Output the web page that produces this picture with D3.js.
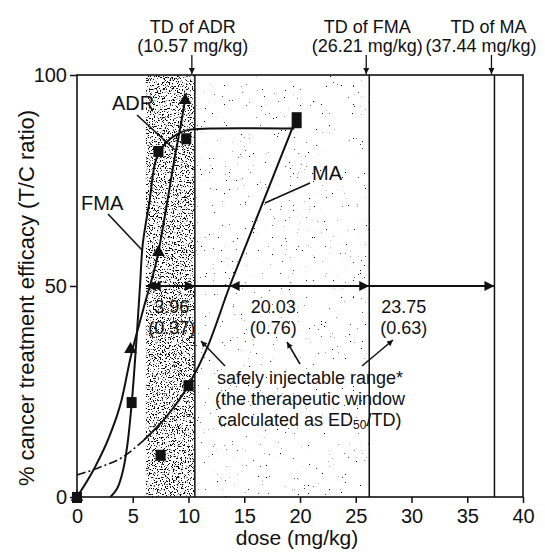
<!DOCTYPE html>
<html>
<head>
<meta charset="utf-8">
<script src="https://cdn.jsdelivr.net/npm/d3@7"></script>
<style>
  body { margin: 0; background: #fff; }
  text { font-family: "Liberation Sans", Arial, sans-serif; fill: #111; }
</style>
</head>
<body>
<svg id="chart"></svg>
<script>
// toxic doses and therapeutic windows
const drugs = ["ADR", "FMA", "MA"];
const tdValues = [10.57, 26.21, 37.44];
const windowWidths = [3.96, 20.03, 23.75];
const windowRatios = [0.37, 0.76, 0.63];

// measured points
const adrPoints = [[0, 0], [4.8, 35], [7.3, 58], [9.7, 94]];
const fmaPoints = [[4.9, 22.5], [7.3, 82], [9.8, 85]];
const maPoints = [[0, 0], [7.5, 10], [10, 26.5], [19.7, 90]];

// fitted curves
const adrCurve = [[0, 0], [1.5, 6.5], [3, 15], [4, 23], [4.8, 33], [6, 45], [7.3, 58], [8.1, 70], [8.8, 81], [9.3, 88], [9.75, 95]];
const fmaCurve = [[3.0, 0], [3.6, 2], [4.1, 6], [4.5, 12], [4.9, 22], [5.3, 36], [5.65, 50], [5.9, 60], [6.5, 70], [7.1, 80], [8, 84], [9, 86], [10, 87], [12, 87.3], [19.5, 87.3]];
const maCurve = [[0, 5.2], [2, 7], [4, 9.3], [6, 13.5], [8, 19], [10, 26.5], [11.7, 35.5], [13.7, 50], [15.2, 60], [16.7, 70], [18.2, 80], [19.7, 90]];
const maFitStart = 6; // fit drawn dash-dot below this dose

const xTicks = [0, 5, 10, 15, 20, 25, 30, 35, 40];
const yTicks = [0, 50, 100];

const width = 545, height = 552;
const margin = {top: 75, right: 22, bottom: 55, left: 77};

const svg = d3.select("#chart")
    .attr("width", width)
    .attr("height", height);

const x = d3.scaleLinear().domain([0, 40]).range([margin.left, width - margin.right]);
const y = d3.scaleLinear().domain([0, 100]).range([height - margin.bottom, margin.top]);

const defs = svg.append("defs");

// stipple textures (dense screen and sparse screen)
function stipple(id, freq, cut) {
  const f = defs.append("filter").attr("id", id)
      .attr("x", 0).attr("y", 0).attr("width", 1).attr("height", 1);
  f.append("feTurbulence").attr("type", "fractalNoise")
      .attr("baseFrequency", freq).attr("numOctaves", 2).attr("seed", 7).attr("result", "n");
  f.append("feColorMatrix").attr("in", "n").attr("type", "matrix")
      .attr("values", `0 0 0 0 0  0 0 0 0 0  0 0 0 0 0  14 0 0 0 ${-cut * 14}`).attr("result", "d");
  f.append("feComposite").attr("in", "d").attr("in2", "SourceAlpha").attr("operator", "in");
}
stipple("stipDark", 0.75, 0.565);
stipple("stipLight", 0.75, 0.745);

defs.append("marker").attr("id", "ah")
    .attr("viewBox", "0 0 10 10").attr("refX", 10).attr("refY", 5)
    .attr("markerWidth", 16).attr("markerHeight", 10).attr("markerUnits", "userSpaceOnUse")
    .attr("orient", "auto-start-reverse")
  .append("path").attr("d", "M0,0L10,5L0,10Z").attr("fill", "#111");

defs.append("marker").attr("id", "sm")
    .attr("viewBox", "0 0 10 10").attr("refX", 10).attr("refY", 5)
    .attr("markerWidth", 8).attr("markerHeight", 6).attr("markerUnits", "userSpaceOnUse")
    .attr("orient", "auto")
  .append("path").attr("d", "M0,0L10,5L0,10Z").attr("fill", "#111");

const ed50 = tdValues.map((t, i) => +(t - windowWidths[i]).toFixed(2));

// shaded ranges
const bands = [
  {x0: ed50[1], x1: tdValues[0], filt: "stipDark"},
  {x0: tdValues[0], x1: tdValues[1], filt: "stipLight"}
];
const band = svg.append("g");
bands.forEach(b => {
  band.append("rect")
      .attr("x", x(b.x0)).attr("y", y(100))
      .attr("width", x(b.x1) - x(b.x0)).attr("height", y(0) - y(100))
      .attr("fill", "#000").attr("filter", `url(#${b.filt})`);
});

// frame
svg.append("rect")
    .attr("x", x(0)).attr("y", y(100))
    .attr("width", x(40) - x(0)).attr("height", y(0) - y(100))
    .attr("fill", "none").attr("stroke", "#111").attr("stroke-width", 1.6);

// axes
const xAxis = svg.append("g")
    .attr("transform", `translate(0,${y(0)})`)
    .call(d3.axisBottom(x).tickValues(xTicks).tickSize(6).tickPadding(6).tickSizeOuter(0));
const yAxis = svg.append("g")
    .attr("transform", `translate(${x(0)},0)`)
    .call(d3.axisLeft(y).tickValues(yTicks).tickSize(7).tickPadding(3).tickSizeOuter(0));
[xAxis, yAxis].forEach(a => {
  a.select(".domain").remove();
  a.selectAll(".tick line").attr("stroke", "#111").attr("stroke-width", 1.5);
  a.selectAll(".tick text").attr("font-size", 20).attr("fill", "#111")
      .attr("font-family", "'Liberation Sans', Arial, sans-serif");
});

svg.append("text")
    .attr("x", (x(0) + x(40)) / 2 - 3).attr("y", 545)
    .attr("text-anchor", "middle").attr("font-size", 21)
    .text("dose (mg/kg)");

svg.append("text")
    .attr("transform", `translate(34,298) rotate(-90)`)
    .attr("text-anchor", "middle").attr("font-size", 22)
    .text("% cancer treatment efficacy (T/C ratio)");

// TD lines and top labels
const td = svg.append("g");
tdValues.forEach((t, i) => {
  td.append("line")
      .attr("x1", x(t)).attr("x2", x(t))
      .attr("y1", y(0)).attr("y2", y(100))
      .attr("stroke", "#111").attr("stroke-width", 1.5);
  td.append("line")
      .attr("x1", x(t) - 3).attr("x2", x(t) - 3)
      .attr("y1", 55).attr("y2", y(100) - 1)
      .attr("stroke", "#111").attr("stroke-width", 1.3)
      .attr("marker-end", "url(#sm)");
  const cx = Math.min(x(t) - 2, width - 64);
  td.append("text").attr("x", i === 2 ? x(t) - 6 : cx).attr("y", 33)
      .attr("text-anchor", "middle").attr("font-size", 18)
      .text(`TD of ${drugs[i]}`);
  td.append("text").attr("x", cx).attr("y", 52)
      .attr("text-anchor", "middle").attr("font-size", 18)
      .text(`(${tdValues[i].toFixed(2)} mg/kg)`);
});

// therapeutic window arrows at 50%
const win = svg.append("g");
tdValues.forEach((t, i) => {
  win.append("line")
      .attr("x1", x(ed50[i])).attr("x2", x(t))
      .attr("y1", y(50)).attr("y2", y(50))
      .attr("stroke", "#111").attr("stroke-width", 2)
      .attr("marker-start", "url(#ah)").attr("marker-end", "url(#ah)");
});
const winLabelX = [8.5, 17.6, 29.3];
windowWidths.forEach((w, i) => {
  win.append("text").attr("x", x(winLabelX[i])).attr("y", 313)
      .attr("text-anchor", "middle").attr("font-size", 18).text(w.toFixed(2));
  win.append("text").attr("x", x(winLabelX[i])).attr("y", 334)
      .attr("text-anchor", "middle").attr("font-size", 18).text(`(${windowRatios[i].toFixed(2)})`);
});

// curves
const line = d3.line().x(d => x(d[0])).y(d => y(d[1])).curve(d3.curveMonotoneX);
const curves = svg.append("g").attr("fill", "none").attr("stroke", "#111").attr("stroke-width", 2);
curves.append("path").attr("d", line(adrCurve));
curves.append("path").attr("d", d3.line().x(d => x(d[0])).y(d => y(d[1])).curve(d3.curveCatmullRom)(fmaCurve));
curves.append("path").attr("d", line(maCurve.filter(d => d[0] <= maFitStart)))
    .attr("stroke-dasharray", "9,3,2,3").attr("stroke-width", 1.6);
curves.append("path").attr("d", line(maCurve.filter(d => d[0] >= maFitStart)));

// markers
const marks = svg.append("g").attr("fill", "#111");
marks.selectAll(".tri").data(adrPoints).join("path")
    .attr("d", d3.symbol(d3.symbolTriangle, 70))
    .attr("transform", d => `translate(${x(d[0])},${y(d[1])})`);
marks.selectAll(".sq").data(fmaPoints.concat(maPoints)).join("rect")
    .attr("x", d => x(d[0]) - 5).attr("y", d => y(d[1]) - 5)
    .attr("width", 10).attr("height", d => d[1] > 88 ? 16 : 11);

// curve labels with pointers
const labels = [
  {t: "ADR", x: 112, y: 110, p: [137, 115, 175, 150]},
  {t: "FMA", x: 81, y: 210, p: [108, 214, 142, 250]},
  {t: "MA", x: 312, y: 180, p: [310, 183, 265, 203]}
];
labels.forEach(l => {
  svg.append("text").attr("x", l.x).attr("y", l.y).attr("font-size", 20).text(l.t);
  svg.append("line")
      .attr("x1", l.p[0]).attr("y1", l.p[1]).attr("x2", l.p[2]).attr("y2", l.p[3])
      .attr("stroke", "#111").attr("stroke-width", 1.6);
});

// annotation
const note = svg.append("g");
[[225, 366, 201, 341], [300, 364, 287, 342], [362, 366, 393, 340]].forEach(p => {
  note.append("line")
      .attr("x1", p[0]).attr("y1", p[1]).attr("x2", p[2]).attr("y2", p[3])
      .attr("stroke", "#111").attr("stroke-width", 1.5)
      .attr("marker-end", "url(#sm)");
});
note.append("text").attr("x", 217).attr("y", 384).attr("font-size", 18).text("safely injectable range*");
note.append("text").attr("x", 215).attr("y", 405).attr("font-size", 18).text("(the therapeutic window");
const t3 = note.append("text").attr("x", 218).attr("y", 426).attr("font-size", 18);
t3.append("tspan").text("calculated as ED");
t3.append("tspan").attr("font-size", 12).attr("dy", 3).text("50");
t3.append("tspan").attr("dy", -3).text("/TD)");
</script>
</body>
</html>
